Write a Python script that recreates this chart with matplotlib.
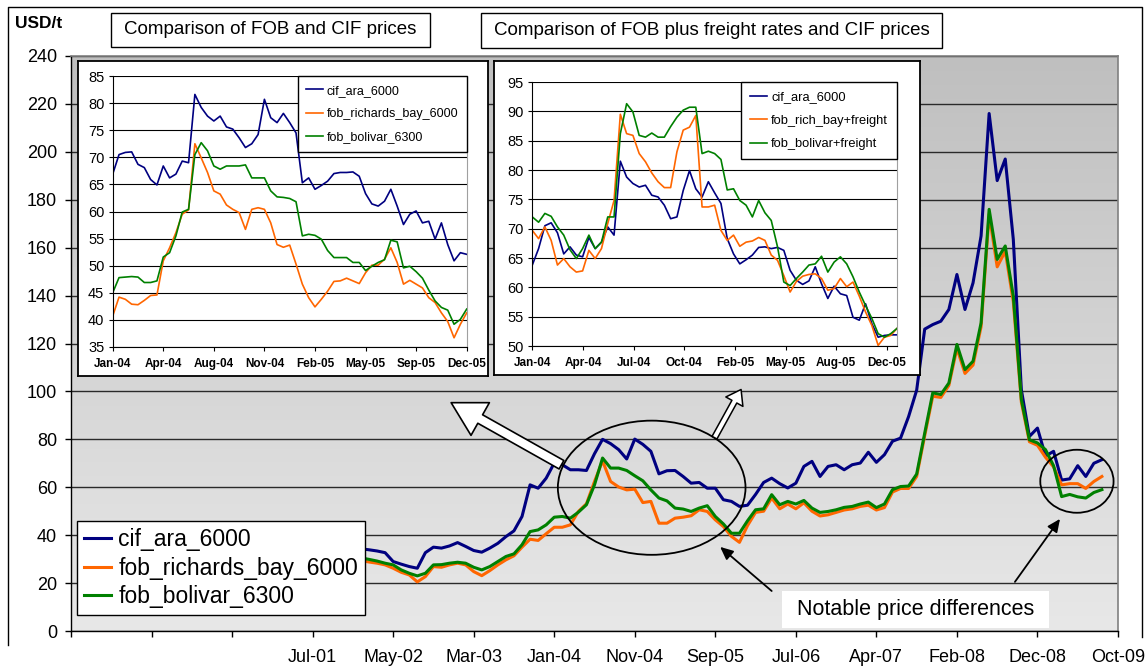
import numpy as np
import matplotlib
matplotlib.use('Agg')
import matplotlib.pyplot as plt
from matplotlib.patches import Ellipse, Rectangle
from matplotlib.lines import Line2D
from matplotlib.colors import LinearSegmentedColormap

plt.rcParams['font.family'] = ['Liberation Sans', 'DejaVu Sans']

# ---- main chart data (x in axis units, one tick = 10 units) ----
main_ticks = ['', '', '', 'Jul-01', 'May-02', 'Mar-03', 'Jan-04', 'Nov-04',
              'Sep-05', 'Jul-06', 'Apr-07', 'Feb-08', 'Dec-08', 'Oct-09']
main_start = 36

cif_ara = [34.3, 33.9, 33.4, 32.7, 29.0, 27.9, 26.9, 26.2, 32.7, 35.0,
           34.6, 35.5, 36.9, 35.3, 33.6, 32.9, 34.6, 36.6, 39.4, 41.8,
           47.8, 61.0, 59.6, 63.8, 70.1, 69.4, 67.3, 67.3, 67.0, 74.0,
           80.0, 78.2, 75.7, 71.8, 80.1, 77.9, 75.0, 65.6, 66.9, 67.0,
           64.5, 61.7, 62.0, 59.6, 59.6, 54.8, 54.1, 52.0, 52.5, 57.0,
           62.0, 63.8, 61.5, 59.7, 61.7, 68.7, 70.8, 64.5, 68.7, 69.4,
           67.3, 69.4, 70.1, 74.6, 70.4, 73.6, 79.2, 80.5, 89.5, 100.5,
           126.0, 127.9, 129.3, 134.2, 148.8, 134.2, 145.3, 164.9, 216.0, 188.0,
           197.0, 163.5, 100.7, 81.2, 84.7, 73.0, 75.0, 63.0, 63.5, 69.0,
           64.5, 70.0, 71.5]

fob_richards_bay = [29.4, 28.8, 28.3, 27.6, 26.2, 24.5, 23.4, 20.5, 22.7, 26.9,
                    26.6, 27.6, 28.3, 27.6, 24.8, 23.1, 25.2, 27.6, 29.7, 31.4,
                    35.0, 38.3, 37.8, 40.6, 43.3, 43.3, 44.3, 49.9, 53.1, 62.4,
                    71.0, 62.4, 60.1, 58.9, 59.2, 53.6, 54.1, 45.0, 45.0, 47.1,
                    47.5, 48.1, 50.6, 49.9, 46.4, 43.6, 39.5, 37.0, 44.0, 49.5,
                    50.0, 55.5, 51.0, 53.0, 51.0, 53.5, 50.0, 48.0, 48.5, 49.5,
                    50.5, 51.0, 52.0, 52.5, 50.5, 51.5, 58.0, 59.5, 59.5, 64.5,
                    81.5, 98.0, 97.5, 102.5, 118.0, 107.5, 111.0, 127.0, 174.0, 152.0,
                    158.5, 137.5, 95.5, 79.0, 77.5, 72.5, 68.5, 61.0, 61.5, 61.5,
                    59.5, 62.4, 64.5]

fob_bolivar = [30.5, 29.9, 29.2, 28.3, 27.6, 25.5, 24.1, 23.0, 24.1, 27.6,
               27.7, 28.3, 28.7, 28.3, 26.6, 25.5, 26.9, 29.0, 31.1, 32.2,
               36.0, 41.5, 42.2, 44.3, 47.5, 47.8, 47.1, 49.6, 52.7, 61.0,
               72.2, 68.0, 68.0, 67.0, 64.8, 62.7, 58.9, 55.5, 54.3, 51.3,
               50.9, 49.9, 51.3, 52.3, 47.8, 44.7, 40.8, 40.8, 46.0, 50.6,
               51.0, 56.9, 52.7, 54.1, 53.0, 54.5, 51.3, 49.5, 49.9, 50.6,
               51.6, 52.0, 53.0, 53.8, 51.5, 53.0, 59.0, 60.3, 60.5, 65.5,
               82.6, 99.4, 98.7, 103.5, 119.6, 109.1, 112.6, 128.6, 176.0, 155.1,
               160.7, 139.8, 96.6, 79.8, 78.5, 75.7, 69.0, 56.1, 57.0, 56.0,
               55.5, 57.8, 59.0]

# ---- inset 1: FOB vs CIF, Jan-04 .. Dec-05 ----
inset1_ticks = ['Jan-04', 'Apr-04', 'Aug-04', 'Nov-04', 'Feb-05', 'May-05', 'Sep-05', 'Dec-05']
cif1 = [66.9, 70.5, 70.9, 71.0, 68.7, 68.1, 65.9, 64.9, 68.4, 66.2,
        66.9, 69.3, 69.0, 81.6, 79.2, 77.6, 76.7, 77.6, 75.6, 75.2,
        73.6, 71.8, 72.5, 74.2, 80.7, 77.3, 76.4, 78.1, 76.4, 74.5,
        65.3, 66.2, 64.1, 64.8, 65.6, 67.0, 67.2, 67.2, 67.3, 66.5,
        63.3, 61.4, 61.0, 61.9, 64.1, 61.0, 57.6, 59.5, 60.1, 57.9,
        58.2, 54.9, 57.9, 53.9, 50.9, 52.4, 52.1]
rb1 = [40.7, 44.2, 43.8, 42.9, 42.8, 43.6, 44.5, 44.6, 50.9, 53.3,
       56.1, 59.5, 60.3, 72.5, 69.9, 67.2, 63.8, 63.2, 61.2, 60.4,
       59.8, 56.7, 60.4, 60.7, 60.4, 57.9, 53.9, 53.4, 53.8, 50.3,
       46.6, 44.1, 42.4, 43.8, 45.3, 47.1, 47.2, 47.7, 47.2, 46.7,
       48.7, 50.1, 50.1, 51.2, 53.3, 50.6, 46.6, 47.3, 46.6, 45.9,
       44.1, 43.2, 41.3, 39.7, 36.7, 39.2, 41.3]
bol1 = [45.0, 47.8, 47.9, 48.0, 47.9, 46.9, 46.9, 47.2, 51.6, 52.4,
        55.5, 59.9, 60.4, 70.5, 72.7, 71.2, 68.4, 67.8, 68.4, 68.4,
        68.4, 68.6, 66.2, 66.2, 66.2, 63.8, 62.7, 62.6, 62.4, 61.8,
        55.5, 55.8, 55.6, 54.9, 52.8, 51.5, 51.5, 51.5, 50.6, 50.6,
        49.1, 49.9, 50.6, 51.1, 54.7, 54.4, 49.6, 49.9, 48.9, 47.7,
        45.5, 43.5, 42.3, 41.8, 39.2, 40.1, 42.0]

# ---- inset 2: FOB plus freight vs CIF ----
inset2_ticks = ['Jan-04', 'Apr-04', 'Jul-04', 'Oct-04', 'Feb-05', 'May-05', 'Aug-05', 'Dec-05']
cif2 = [63.8, 66.6, 70.5, 71.0, 69.3, 65.7, 66.9, 65.5, 65.2, 68.5,
        66.6, 67.7, 70.3, 68.9, 81.5, 78.8, 77.7, 77.1, 77.4, 75.7,
        75.4, 74.0, 71.7, 72.0, 76.5, 79.9, 76.8, 75.4, 78.0, 76.1,
        74.3, 68.3, 65.7, 64.0, 64.7, 65.5, 66.8, 66.9, 66.6, 66.8,
        66.3, 62.9, 61.2, 60.5, 61.1, 63.5, 60.6, 58.1, 60.2, 58.9,
        58.6, 54.9, 54.4, 57.2, 53.8, 51.5, 51.8, 51.9, 51.9]
rb2 = [69.7, 68.3, 70.3, 68.0, 63.8, 64.9, 63.5, 62.6, 62.8, 66.3,
       64.9, 66.6, 70.9, 74.8, 89.5, 86.2, 85.9, 82.8, 81.4, 79.5,
       78.0, 77.0, 77.0, 83.1, 86.8, 87.3, 89.3, 73.7, 73.7, 74.0,
       69.7, 68.0, 68.9, 67.0, 67.7, 67.9, 68.5, 68.0, 65.5, 64.6,
       62.0, 59.2, 61.0, 61.9, 62.2, 62.3, 61.5, 59.5, 59.8, 61.5,
       60.1, 60.9, 58.5, 55.8, 53.5, 50.1, 51.5, 51.8, 53.0]
bol2 = [72.0, 71.1, 72.6, 72.1, 70.3, 68.9, 66.4, 64.9, 66.6, 68.9,
        66.6, 67.7, 72.0, 72.0, 86.2, 91.3, 89.9, 85.9, 85.6, 86.3,
        85.6, 85.6, 87.4, 89.0, 90.2, 90.7, 90.7, 82.8, 83.2, 82.8,
        81.8, 76.6, 76.8, 74.8, 74.0, 72.0, 74.8, 72.7, 71.4, 66.9,
        60.9, 60.3, 61.5, 62.6, 63.8, 64.0, 65.3, 62.6, 64.3, 65.2,
        64.0, 61.8, 59.2, 56.9, 54.7, 52.1, 51.5, 52.1, 53.0]

NAVY, ORANGE, GREEN = '#000080', '#FF6600', '#008000'

W, H = 1145, 670


def fx(px):
    return px / W


def fy(py):
    return 1 - py / H


def box(x0, y0, x1, y1):
    """ pixel box (top-left, bottom-right) -> figure fraction rect """
    return [fx(x0), fy(y1), (x1 - x0) / W, (y1 - y0) / H]


fig = plt.figure(figsize=(W / 100, H / 100), dpi=100)
fig.patch.set_facecolor('white')

# ---------------- main chart ----------------
ax = fig.add_axes(box(71, 56, 1118, 631))
grad = np.linspace(0, 1, 256).reshape(-1, 1)
cmap = LinearSegmentedColormap.from_list('bg', ['#e8e8e8', '#bfbfbf'])
ax.imshow(grad, extent=[0, 130, 0, 240], aspect='auto', origin='lower',
          cmap=cmap, zorder=0)
ax.set_xlim(0, 130)
ax.set_ylim(0, 240)
ax.set_axisbelow(True)
ax.yaxis.grid(True, color='#2a2a2a', lw=1.0)
ax.set_yticks(np.arange(0, 241, 20))
ax.set_xticks(np.arange(0, 131, 10))
ax.set_xticklabels(main_ticks)
ax.tick_params(axis='y', direction='out', length=4, width=1, labelsize=13, pad=6)
ax.tick_params(axis='x', direction='out', length=4, width=1, labelsize=13, pad=9)
for side in ['left', 'bottom']:
    ax.spines[side].set_color('black')
    ax.spines[side].set_linewidth(1)
for side in ['top', 'right']:
    ax.spines[side].set_color('#808080')
    ax.spines[side].set_linewidth(1.2)

t = np.arange(main_start, main_start + len(cif_ara))
ax.plot(t, cif_ara, color=NAVY, lw=2.2, label='cif_ara_6000', zorder=3)
ax.plot(t, fob_richards_bay, color=ORANGE, lw=2.2, label='fob_richards_bay_6000', zorder=3)
ax.plot(t, fob_bolivar, color=GREEN, lw=2.2, label='fob_bolivar_6300', zorder=3)

leg = ax.legend(loc='upper left', bbox_to_anchor=(fx(77), fy(521)),
                bbox_transform=fig.transFigure, borderaxespad=0, fontsize=16.5,
                handlelength=1.2, handletextpad=0.3, labelspacing=0.25,
                borderpad=0.3, fancybox=False, framealpha=1, edgecolor='black')
leg.get_frame().set_linewidth(1)
leg.set_zorder(6)

# circles marking the differences
ax.add_patch(Ellipse((72.1, 59.8), 23.3, 56, fill=False, ec='black', lw=1.3, zorder=4))
ax.add_patch(Ellipse((124.9, 62.5), 9.1, 26.3, fill=False, ec='black', lw=1.3, zorder=4))

# white block arrows pointing to the insets
ax.annotate('', xy=(47.2, 95.3), xytext=(60.9, 69.4),
            arrowprops=dict(arrowstyle='simple,head_length=24,head_width=27,tail_width=7',
                            mutation_scale=1, fc='white', ec='black', lw=1.2,
                            shrinkA=0, shrinkB=0), zorder=5)
ax.annotate('', xy=(83.2, 100.8), xytext=(79.9, 80.7),
            arrowprops=dict(arrowstyle='simple,head_length=10,head_width=14,tail_width=4',
                            mutation_scale=1, fc='white', ec='black', lw=1.1,
                            shrinkA=0, shrinkB=0), zorder=5)
# thin black arrows from the note
for tail, head in [((87.0, 16.7), (80.6, 35.1)), ((117.2, 20.5), (122.8, 46.8))]:
    ax.annotate('', xy=head, xytext=tail,
                arrowprops=dict(arrowstyle='-|>,head_length=0.55,head_width=0.25',
                                mutation_scale=14, color='black', lw=1.3,
                                shrinkA=0, shrinkB=0), zorder=5)


def draw_inset(frame_px, plot_px, xmax, ylo, yhi, ticks, series, labels, legsize):
    """ white framed inset with its own small chart """
    fr = fig.add_axes(box(*frame_px))
    fr.set_facecolor('white')
    fr.set_xticks([])
    fr.set_yticks([])
    for s in fr.spines.values():
        s.set_color('black')
        s.set_linewidth(1.3)

    ia = fig.add_axes(box(*plot_px))
    ia.set_facecolor('white')
    ia.set_xlim(0, xmax)
    ia.set_ylim(ylo, yhi)
    ia.set_axisbelow(True)
    ia.yaxis.grid(True, color='black', lw=0.8)
    ia.set_yticks(np.arange(ylo, yhi + 1, 5))
    ia.set_xticks(np.arange(len(ticks)))
    ia.set_xticklabels(ticks, fontweight='bold', fontsize=8.5)
    ia.tick_params(axis='y', direction='out', length=3, labelsize=10.5, pad=3)
    ia.tick_params(axis='x', direction='out', length=3, pad=5)
    ia.spines['top'].set_visible(False)
    ia.spines['right'].set_color('#a0a0a0')
    ia.spines['left'].set_color('black')
    ia.spines['bottom'].set_color('black')

    colors = [NAVY, ORANGE, GREEN]
    for vals, lab, col in zip(series, labels, colors):
        x = np.linspace(0, xmax, len(vals))
        ia.plot(x, vals, color=col, lw=1.2, label=lab)
    lg = ia.legend(loc='upper right', borderaxespad=0, fontsize=legsize,
                   handlelength=1.3, handletextpad=0.3, labelspacing=0.9,
                   borderpad=0.7, fancybox=False, framealpha=1, edgecolor='black')
    lg.get_frame().set_linewidth(1)
    return ia


draw_inset((78, 61, 488, 376), (112.7, 76, 466.7, 347), 7, 35, 85, inset1_ticks,
           [cif1, rb1, bol1], ['cif_ara_6000', 'fob_richards_bay_6000', 'fob_bolivar_6300'], 9.0)
draw_inset((494, 61, 920, 375), (532.3, 82, 897, 346), 7.2, 50, 95, inset2_ticks,
           [cif2, rb2, bol2], ['cif_ara_6000', 'fob_rich_bay+freight', 'fob_bolivar+freight'], 9.3)

# ---------------- titles, note, frame ----------------
for (x0, y0, x1, y1), txt in [((111, 13, 430, 47), 'Comparison of FOB and CIF prices'),
                              ((481, 13, 942, 48), 'Comparison of FOB plus freight rates and CIF prices')]:
    fig.patches.append(Rectangle((fx(x0), fy(y1)), (x1 - x0) / W, (y1 - y0) / H,
                                 transform=fig.transFigure, fc='white', ec='black', lw=1))
    fig.text(fx((x0 + x1) / 2), fy((y0 + y1) / 2), txt, ha='center', va='center', fontsize=13.5)

fig.patches.append(Rectangle((fx(782), fy(628)), (1049 - 782) / W, (628 - 591) / H,
                             transform=fig.transFigure, fc='white', ec='none'))
fig.text(fx(915.5), fy(609.5), 'Notable price differences', ha='center', va='center', fontsize=15.5)

fig.text(fx(15), fy(23), 'USD/t', ha='left', va='center', fontsize=12.5, fontweight='bold')

fig.add_artist(Line2D([fx(8), fx(8), fx(1142), fx(1142)], [fy(645), fy(7), fy(7), fy(637)],
                      transform=fig.transFigure, color='black', lw=1))

fig.savefig('out.png', dpi=100)
